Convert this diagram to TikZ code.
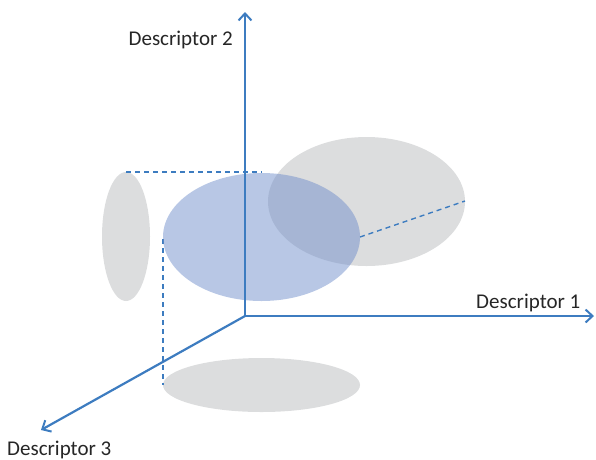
\documentclass[tikz,border=0pt]{standalone}
\usepackage{fontspec}
\setmainfont{Carlito}
\usetikzlibrary{arrows.meta}
\definecolor{axisblue}{HTML}{3D7CC0}
\definecolor{cloudgray}{HTML}{DCDDDE}
\definecolor{cloudblue}{HTML}{718FCB}
\tikzset{
  axis/.style={draw=axisblue, line width=2.2pt, -{Straight Barb[length=7pt,width=13pt,line width=2pt]}},
  proj/.style={draw=axisblue, line width=1.4pt, dash pattern=on 5pt off 4pt},
  shadow/.style={fill=cloudgray},
  cluster/.style={fill=cloudblue, fill opacity=0.5},
  axlabel/.style={font=\fontsize{21}{24}\selectfont, text=black!85, inner sep=0pt}
}
\begin{document}
\begin{tikzpicture}[x=1pt,y=-1pt]
\useasboundingbox (0,0) rectangle (596,459);
% origin and axis ends
\coordinate (O) at (245,316);
\coordinate (X1) at (594,316);
\coordinate (X2) at (245,12);
\coordinate (X3) at (41,430);
% projections of the cluster onto the three planes
\fill[shadow] (366.5,201.5) ellipse [x radius=98.5, y radius=64.5];
\fill[shadow] (126,236.5) ellipse [x radius=24, y radius=64.5];
\fill[shadow] (261.5,385) ellipse [x radius=98.5, y radius=27];
% projection guides
\coordinate (sideTop) at (126,172);
\coordinate (clTop) at (262,172);
\coordinate (clLeft) at (163,239);
\coordinate (flLeft) at (163,385);
\coordinate (clRight) at (360,237);
\coordinate (bkRight) at (465,201);
\draw[proj] (sideTop) -- (clTop);
\draw[proj] (clLeft) -- (flLeft);
\draw[proj] (clRight) -- (bkRight);
% the cluster itself
\fill[cluster] (261.5,237) ellipse [x radius=98.5, y radius=64];
% axes
\draw[axis] (O) -- (X1);
\draw[axis] (O) -- (X2);
\draw[axis] (O) -- (X3);
% axis labels
\node[axlabel, anchor=base east] (L2) at (233,45) {Descriptor 2};
\node[axlabel, anchor=base west] (L1) at (476,308) {Descriptor 1};
\node[axlabel, anchor=base west] (L3) at (7,455) {Descriptor 3};
\end{tikzpicture}
\end{document}
